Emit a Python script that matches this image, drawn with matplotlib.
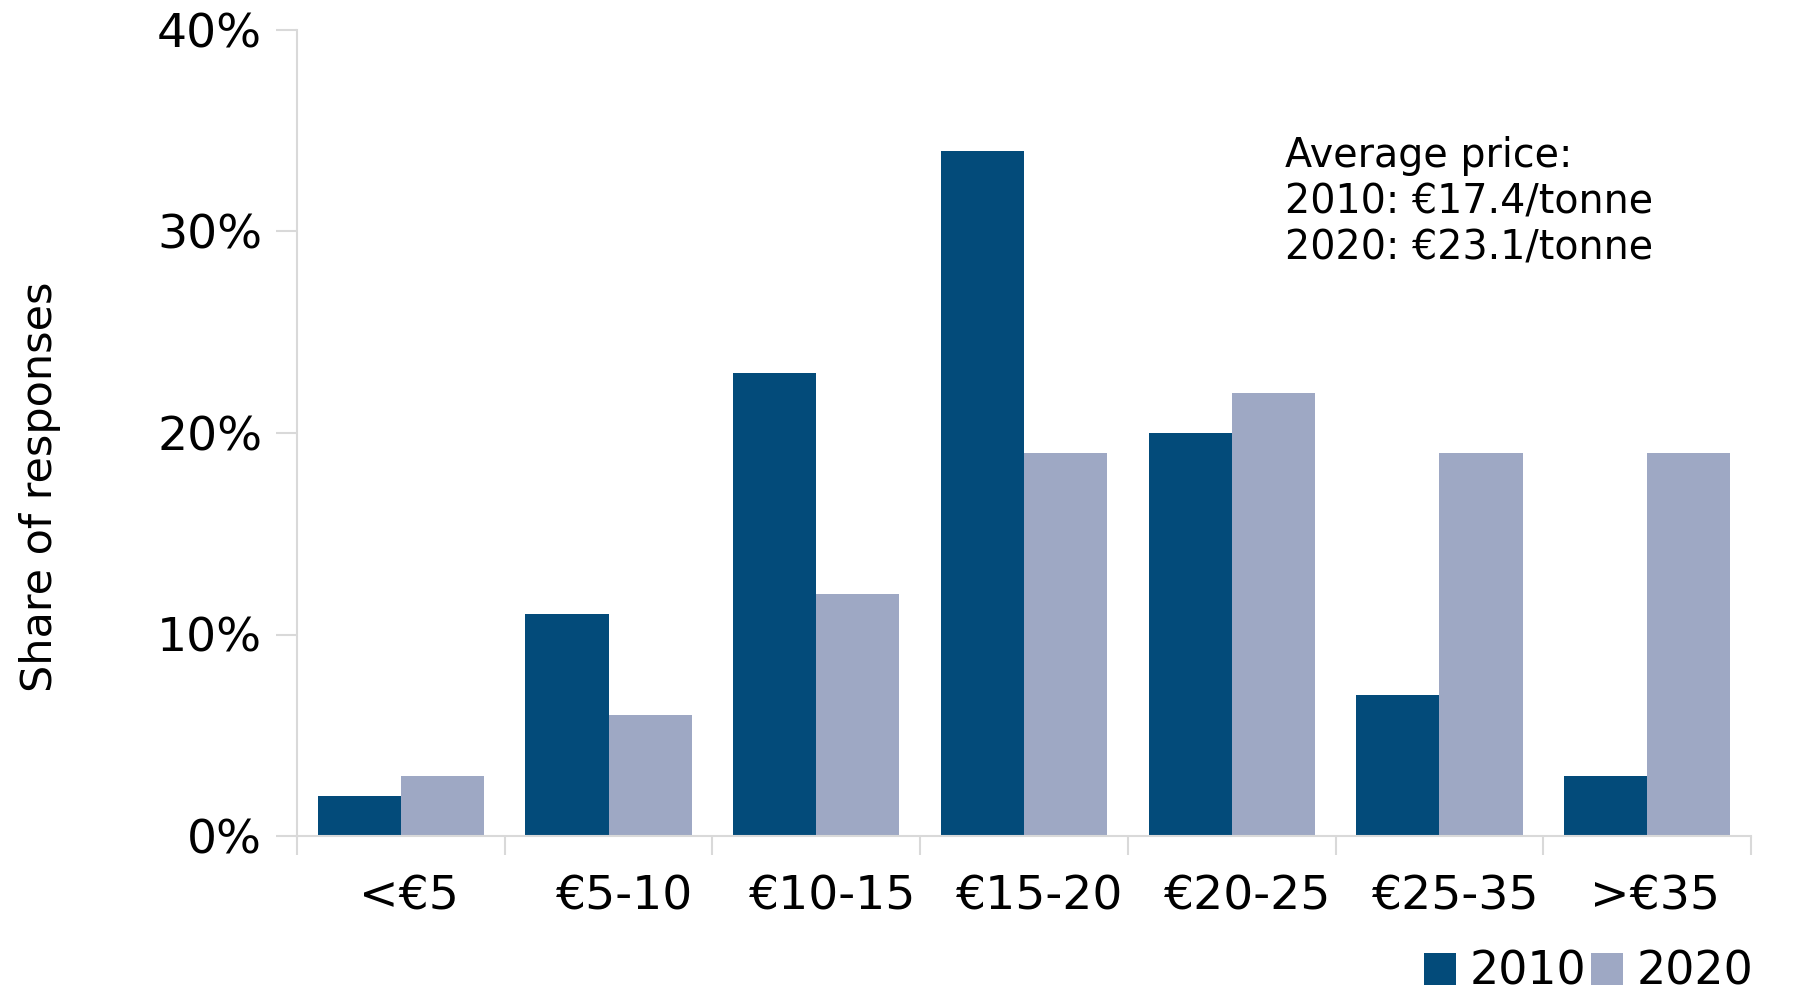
import matplotlib
matplotlib.use("Agg")
import matplotlib.pyplot as plt
import numpy as np
from matplotlib.patches import Patch
from matplotlib.transforms import Bbox, TransformedBbox, ScaledTranslation

categories = ["<€5", "€5-10", "€10-15", "€15-20", "€20-25", "€25-35", ">€35"]
values_2010 = [2, 11, 23, 34, 20, 7, 3]
values_2020 = [3, 6, 12, 19, 22, 19, 19]
series_names = ["2010", "2020"]
yticks = [0, 10, 20, 30, 40]
note_lines = ["Average price:", "2010: €17.4/tonne", "2020: €23.1/tonne"]

c2010 = "#034B7A"
c2020 = "#9EA8C4"
grey = "#D9D9D9"

plt.rcParams['font.family'] = ['DejaVu Sans']

fig = plt.figure(figsize=(18.01, 9.90), dpi=100)
ax = fig.add_axes([297/1801, 1-836/990, (1751-297)/1801, (836-30)/990])

x = np.arange(len(categories))
w = 0.4
ax.bar(x - w/2, values_2010, width=w, color=c2010, label=series_names[0])
ax.bar(x + w/2, values_2020, width=w, color=c2020, label=series_names[1])

ax.set_xlim(-0.5, len(categories) - 0.5)
ax.set_ylim(0, 40)
ax.set_yticks(yticks)
ax.set_yticklabels([f"{v}%" for v in yticks])

ax.set_xticks(np.arange(len(categories) + 1) - 0.5)
ax.set_xticklabels([])
ax.set_xticks(x, minor=True)
ax.set_xticklabels(categories, minor=True)
ax.tick_params(axis='x', which='major', length=14, width=1.5, color=grey, direction='out')
ax.tick_params(axis='x', which='minor', length=0, pad=28, labelsize=34)
ax.tick_params(axis='y', which='major', length=15, width=1.5, color=grey, direction='out', pad=10, labelsize=34)

# small horizontal offsets of category labels, as in the reference
for lbl in ax.get_xticklabels(minor=True):
    dx = 16 if lbl.get_text().startswith("€") else 8
    lbl.set_transform(lbl.get_transform() + ScaledTranslation(dx/100, 0, fig.dpi_scale_trans))

for s in ["top", "right"]:
    ax.spines[s].set_visible(False)
for s in ["left", "bottom"]:
    ax.spines[s].set_color(grey)
    ax.spines[s].set_linewidth(1.5)

fig.text(40/1801, 1-487/990, "Share of responses", rotation=90, ha='center', va='center', fontsize=31)

ax.text(1285/1801, 1-136/990, "\n".join(note_lines), transform=fig.transFigure,
        ha='left', va='top', fontsize=28.5, linespacing=1.2)

handles = [Patch(facecolor=c2010), Patch(facecolor=c2020)]
leg = fig.legend(handles, series_names, loc='lower left', bbox_to_anchor=(1424/1801, -0.005),
                 ncol=2, frameon=False, fontsize=33, handlelength=0.7, handleheight=0.7,
                 handletextpad=0.3, columnspacing=0.1, borderpad=0, borderaxespad=0)
clip = TransformedBbox(Bbox([[0, 0], [1751/1801, 1]]), fig.transFigure)
for t in leg.get_texts():
    t.set_clip_box(clip)
    t.set_clip_on(True)

fig.savefig("out.png", dpi=100)
